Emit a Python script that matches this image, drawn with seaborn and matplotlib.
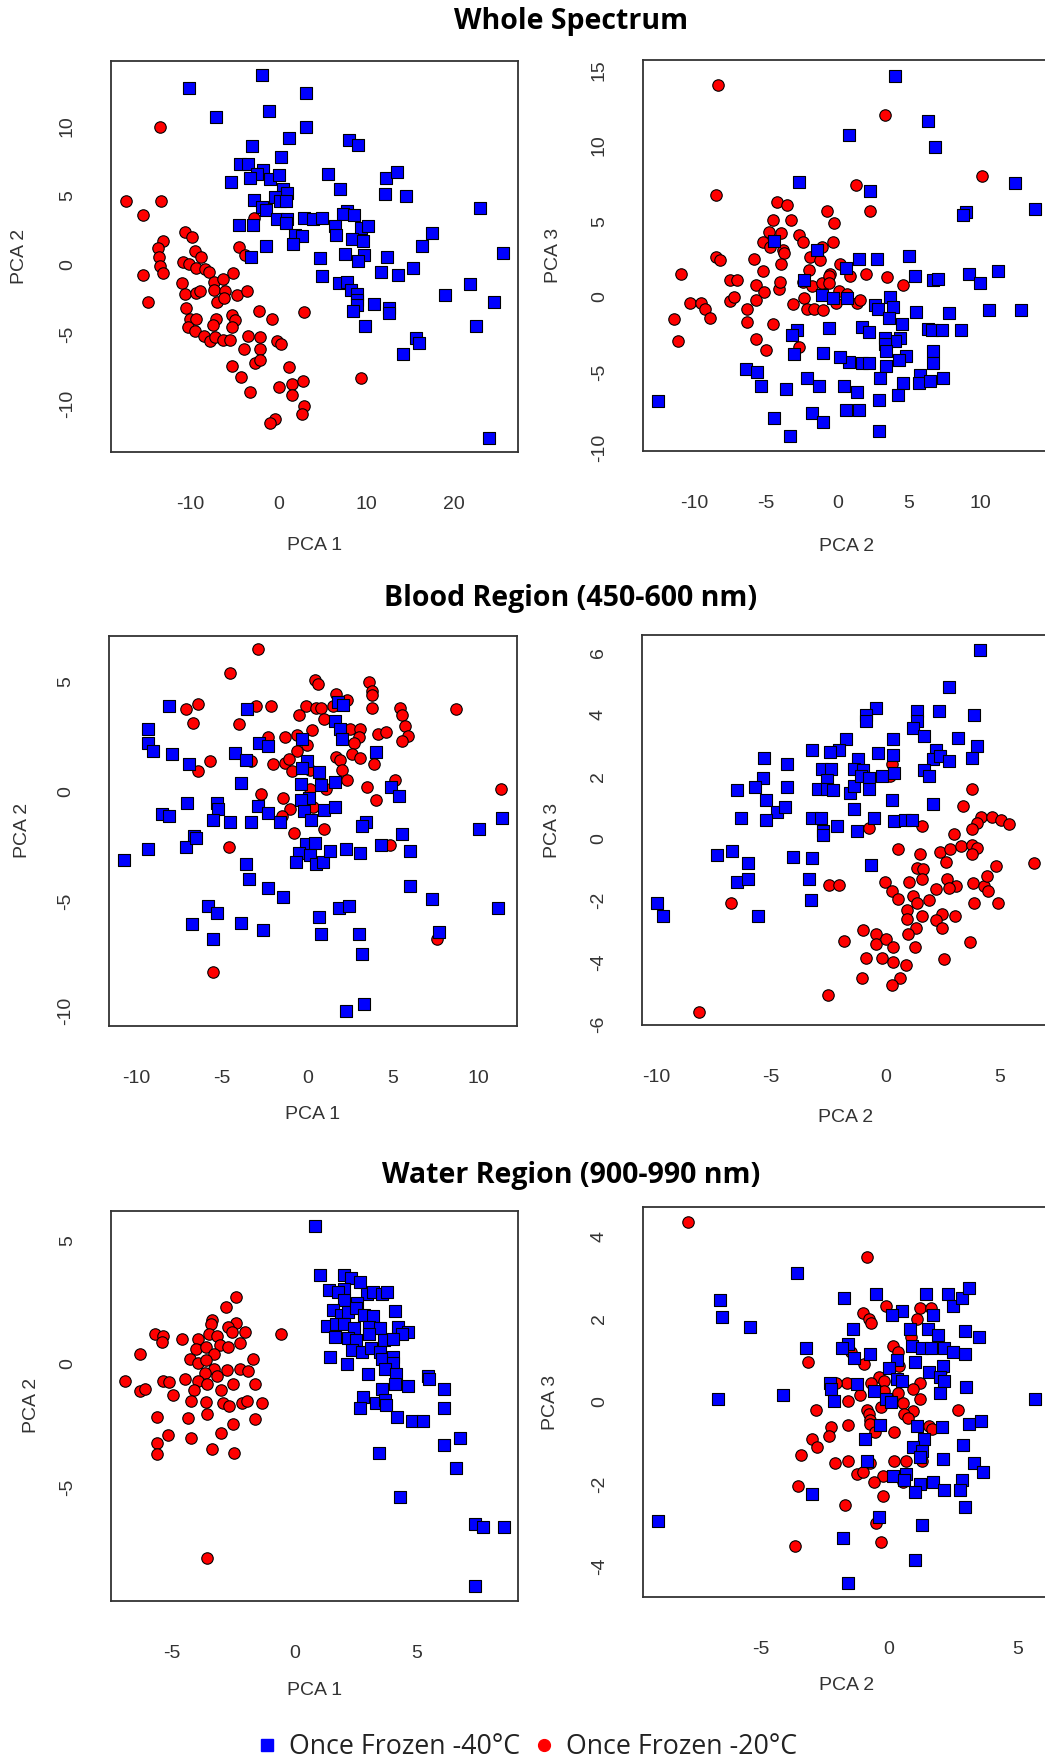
import matplotlib
matplotlib.use("Agg")
import matplotlib.pyplot as plt
import seaborn as sns
import pandas as pd
from matplotlib.lines import Line2D

sns.set_theme(style="white")
plt.rcParams['font.family'] = ['Liberation Sans', 'DejaVu Sans']

# ---------------- DATA ----------------
titles = ["Whole Spectrum", "Blood Region (450-600 nm)", "Water Region (900-990 nm)"]
legend_labels = ["Once Frozen -40\u00b0C", "Once Frozen -20\u00b0C"]

# Panel 1: Whole spectrum, PCA1 vs PCA2
p1_blue = [(-1.9,13.7),(-10.2,12.8),(3.1,12.4),(-1.1,11.1),(-7.1,10.7),(3.2,10.0),(1.2,9.2),(8.0,9.0),(9.0,8.7),(-3.0,8.6),
    (0.3,7.8),(-4.3,7.3),(-3.5,7.3),(-1.7,6.9),(-2.4,6.6),(-3.2,6.3),(-1.0,6.2),(0.1,6.5),(5.6,6.6),(-5.4,6.0),(12.2,6.3),
    (13.5,6.7),(7.0,5.5),(0.5,5.5),(1.0,5.2),(-0.4,4.9),(0.2,4.6),(-2.8,4.7),(0.9,4.6),(-1.8,4.2),(-1.4,4.0),(12.1,5.1),
    (14.5,5.0),(22.9,4.1),(7.8,3.9),(7.3,3.7),(8.6,3.6),(2.9,3.4),(3.9,3.3),(5.0,3.4),(-0.2,3.3),(1.0,3.3),(0.9,3.0),
    (6.4,2.8),(9.4,2.7),(10.2,2.8),(-4.5,2.9),(-2.9,2.9),(1.9,2.2),(2.7,2.1),(6.5,2.2),(17.5,2.3),(8.4,1.9),(9.6,1.7),
    (-1.4,1.4),(1.7,1.5),(16.3,1.4),(25.5,0.9),(-3.1,0.6),(4.7,0.5),(7.6,0.8),(9.7,0.7),(9.0,0.3),(12.4,0.6),(15.3,-0.2),
    (11.7,-0.5),(13.6,-0.7),(5.0,-0.8),(6.9,-1.3),(7.8,-1.2),(8.3,-1.8),(8.9,-2.1),(8.9,-2.5),(8.9,-2.9),(8.5,-3.3),
    (10.9,-2.8),(12.6,-3.1),(12.6,-3.5),(9.8,-4.4),(18.9,-2.2),(21.8,-1.4),(24.5,-2.7),(22.5,-4.4),(15.6,-5.3),(16.0,-5.6),
    (14.2,-6.4),(23.9,-12.5)]
p1_red = [(-13.4,10.0),(-17.3,4.6),(-13.3,4.6),(-15.4,3.6),(-2.8,3.4),(-10.6,2.4),(-9.8,2.0),(-13.1,1.7),(-13.7,1.2),
    (-13.6,0.6),(-4.5,1.3),(-3.8,0.7),(-9.5,1.0),(-8.8,0.6),(-13.4,-0.1),(-10.8,0.2),(-10.2,0.1),(-9.3,-0.2),(-8.3,-0.3),
    (-7.9,-0.5),(-15.4,-0.7),(-13.1,-0.6),(-5.2,-0.6),(-14.8,-2.7),(-11.0,-1.3),(-10.6,-2.1),(-9.3,-2.0),(-8.9,-1.9),
    (-7.3,-1.2),(-6.3,-1.0),(-7.3,-1.8),(-6.1,-1.9),(-7.0,-2.7),(-6.2,-2.4),(-4.7,-2.2),(-3.6,-1.9),(-10.5,-3.1),
    (-10.0,-3.9),(-9.4,-3.9),(-7.1,-3.9),(-7.4,-4.3),(-10.3,-4.5),(-9.5,-4.8),(-8.4,-5.1),(-7.8,-5.5),(-7.2,-5.2),
    (-6.3,-5.4),(-5.5,-5.4),(-5.3,-3.6),(-4.9,-4.0),(-5.3,-4.5),(-3.4,-5.1),(-2.1,-5.2),(-2.2,-3.3),(-0.7,-3.9),
    (2.9,-3.4),(-3.9,-6.1),(-2.1,-6.1),(-2.7,-7.1),(-2.1,-6.9),(-0.2,-5.5),(0.3,-5.7),(-5.3,-7.3),(-4.2,-8.1),
    (-3.2,-9.2),(1.2,-7.4),(1.6,-8.6),(2.8,-8.4),(0.1,-8.8),(1.6,-9.4),(2.9,-10.2),(2.7,-10.8),(-0.4,-11.1),
    (-0.9,-11.4),(9.4,-8.2)]

# Panel 2: Whole spectrum, PCA2 vs PCA3
p2_blue = [(4.0,14.6),(6.3,11.6),(0.8,10.7),(6.8,9.9),(-2.7,7.6),(2.3,7.0),(12.4,7.5),(9.0,5.6),(8.8,5.4),(13.8,5.8),
    (-4.4,3.7),(-1.4,3.1),(1.5,2.5),(2.8,2.5),(5.0,2.7),(0.6,1.9),(5.4,1.4),(9.2,1.5),(11.2,1.7),
    (-2.3,1.1),(-1.1,0.1),(-0.3,-0.1),(0.65,-0.1),(3.7,0.0),(2.6,-0.55),(2.85,-0.8),(3.9,-0.7),(3.6,-1.4),(5.5,-1.0),
    (7.8,-1.1),(10.6,-0.9),(12.8,-0.9),(9.95,0.9),(6.7,1.1),(7.0,1.2),(4.5,-1.8),(6.3,-2.1),(6.6,-2.2),(7.3,-2.2),
    (8.6,-2.2),(4.4,-2.7),(4.0,-2.9),(3.3,-2.75),(3.3,-3.1),(3.4,-3.6),(4.8,-3.9),(4.3,-4.2),(6.7,-3.6),(6.7,-4.4),
    (3.4,-4.6),(3.0,-5.35),(5.8,-5.2),(5.7,-5.7),(6.5,-5.6),(7.35,-5.35),(4.6,-5.7),(4.2,-6.5),(2.9,-6.8),(1.7,-4.4),
    (2.2,-4.4),(0.8,-4.3),(0.2,-4.0),(-1.0,-3.7),(1.7,-2.0),(2.2,-2.3),(-0.6,-2.05),(-2.8,-2.2),(-3.15,-2.5),(-3.0,-3.8),
    (-6.4,-4.8),(-5.6,-5.0),(-5.3,-5.9),(-3.6,-6.1),(-2.1,-5.35),(-1.3,-5.9),(0.5,-5.9),(1.4,-6.3),(0.6,-7.5),(1.5,-7.5),
    (-1.8,-7.7),(-1.0,-8.3),(-4.4,-8.0),(-3.3,-9.2),(2.9,-8.9),(-12.5,-6.9)]
p2_red = [(-8.3,14.0),(3.3,12.0),(10.1,8.0),(1.3,7.4),(-8.5,6.7),(2.3,5.7),(-4.2,6.3),(-3.5,6.1),(-4.5,5.1),(-3.2,5.1),
    (-0.7,5.7),(-0.2,4.9),(-4.8,4.3),(-3.9,4.2),(-2.65,4.1),(-2.4,3.6),(-5.2,3.6),(-4.7,3.3),(-3.8,3.1),(-3.7,2.9),
    (-1.1,3.3),(-0.3,3.6),(-8.5,2.6),(-8.2,2.4),(-5.8,2.5),(-3.9,2.2),(-1.9,2.6),(-1.2,2.4),(0.2,2.2),(-10.9,1.5),
    (-5.2,1.7),(-2.0,1.8),(-0.5,1.5),(2.0,1.5),(3.5,1.3),(-7.5,1.1),(-7.0,1.1),(-5.7,0.8),(-5.1,0.3),(-4.1,0.5),
    (-4.0,1.0),(-5.7,-0.2),(-7.5,-0.3),(-7.2,0.0),(-6.3,-0.8),(-10.3,-0.4),(-9.5,-0.4),(-9.2,-0.8),(-8.9,-1.4),
    (-11.4,-1.5),(-11.1,-2.9),(-6.3,-1.7),(-4.5,-1.8),(-5.7,-2.8),(-5.0,-3.5),(-2.7,-3.3),(-3.1,-0.5),(-2.4,1.0),
    (-1.8,0.7),(-2.3,-0.1),(-2.1,-0.8),(-1.6,-0.8),(-1.0,-0.9),(-1.1,0.9),(-0.6,1.4),(-0.6,0.9),(-0.1,-0.4),(0.1,0.4),
    (0.7,0.2),(0.9,1.4),(1.35,-0.4),(1.6,-0.2),(4.6,0.8)]

# Panel 3: Blood region, PCA1 vs PCA2
p3_blue = [(-8.1,3.9),(-9.3,2.85),(-9.3,2.2),(-9.0,1.85),(-7.9,1.7),(-6.9,1.25),(-3.5,3.75),(-2.8,2.2),(-2.3,2.1),
    (-4.2,1.75),(-3.6,1.45),(-3.9,0.4),(-7.0,-0.5),(-5.3,-0.5),(-5.2,-0.8),(-8.5,-1.0),(-8.1,-1.1),(-5.5,-1.3),(-4.5,-1.4),
    (-3.3,-1.4),(-1.6,-1.4),(-2.9,-0.65),(-2.3,-0.95),(-0.3,2.4),(1.8,4.1),(2.1,3.95),(1.6,3.2),(1.9,2.85),(2.0,2.4),
    (0.0,1.4),(-0.3,1.1),(0.7,0.9),(-0.4,0.35),(0.8,0.3),(1.6,0.45),(0.1,-0.3),(-0.4,-0.4),(-0.2,-0.9),(0.2,-1.3),
    (1.0,-0.85),(1.6,-0.7),(4.0,1.8),(4.9,0.2),(5.35,-0.2),(3.4,-1.4),(3.2,-1.55),(5.55,-1.95),(10.0,-1.7),(11.35,-1.2),
    (-6.6,-2.0),(-10.7,-3.1),(-9.3,-2.6),(-7.1,-2.5),(-6.5,-2.1),(-3.6,-3.3),(-3.4,-4.0),(-2.3,-4.4),(-1.4,-4.8),
    (-5.8,-5.2),(-5.3,-5.55),(-6.75,-6.05),(-3.9,-6.0),(-2.6,-6.3),(-5.5,-6.7),(-0.1,-2.4),(0.45,-2.35),(-0.5,-2.8),
    (0.15,-2.9),(-0.65,-3.2),(0.5,-3.3),(0.9,-3.2),(1.3,-2.7),(2.25,-2.6),(3.1,-2.8),(4.3,-2.45),(6.0,-2.7),(6.0,-4.3),
    (7.3,-4.9),(11.1,-5.3),(1.85,-5.3),(2.45,-5.2),(0.7,-5.7),(0.8,-6.5),(3.0,-6.5),(3.2,-7.4),(7.7,-6.4),(2.25,-10.0),
    (3.3,-9.7)]
p3_red = [(-2.9,6.5),(-4.5,5.4),(0.45,5.1),(0.6,4.9),(3.6,5.0),(3.8,4.6),(3.8,4.4),(-7.1,3.75),(-6.4,4.0),(-6.7,3.15),
    (-4.0,3.1),(-3.0,3.9),(-2.1,3.9),(-0.1,3.9),(0.5,3.8),(0.8,3.8),(1.5,3.9),(1.7,4.45),(2.3,4.2),(3.8,3.8),(5.4,3.8),
    (5.5,3.5),(5.7,3.0),(5.9,2.55),(5.5,2.3),(8.7,3.75),(-0.5,3.5),(1.0,3.3),(-1.3,2.5),(-0.6,2.6),(0.25,2.8),(-2.3,2.5),
    (2.5,2.85),(3.1,2.85),(3.0,2.5),(4.1,2.65),(4.6,2.7),(2.7,2.2),(0.0,2.15),(-0.6,1.85),(-5.7,1.4),(-6.4,0.95),
    (-3.3,1.4),(-2.0,1.25),(-1.3,1.3),(-1.1,1.5),(-0.9,0.95),(1.7,1.6),(1.9,1.45),(2.6,1.7),(3.1,1.55),(3.9,1.25),
    (2.0,1.0),(2.3,0.55),(0.15,1.0),(5.1,0.55),(3.5,0.2),(4.0,-0.4),(11.3,0.1),(-2.7,-0.1),(-1.4,-0.3),(-1.0,-0.8),
    (-1.5,-1.1),(0.35,-0.7),(0.15,0.1),(1.1,0.1),(-0.8,-1.9),(1.0,-1.7),(-4.6,-2.5),(4.8,-2.45),(7.55,-6.7),(-5.5,-8.2)]

# Panel 4: Blood region, PCA2 vs PCA3
p4_blue = [(4.15,6.1),(2.8,4.9),(-0.4,4.2),(-0.85,4.0),(-0.85,3.8),(1.4,4.1),(1.4,3.8),(1.2,3.55),(2.35,4.1),(3.9,4.0),
    (1.7,3.3),(3.2,3.25),(4.0,3.0),(0.35,3.2),(-1.7,3.2),(-2.0,2.85),(-2.4,2.8),(-3.2,2.85),(-0.3,2.75),(0.35,2.7),
    (-5.3,2.6),(-4.3,2.4),(-5.35,1.95),(-5.7,1.65),(-6.5,1.55),(-4.3,1.65),(-5.2,1.25),(-4.75,0.85),(-4.4,1.0),(-6.3,0.65),
    (-5.2,0.6),(-2.75,2.25),(-2.35,2.25),(-2.55,1.9),(-2.95,1.6),(-2.55,1.6),(-2.3,1.55),(-1.55,1.45),(-1.35,1.7),
    (-1.2,2.55),(-1.35,2.25),(-0.95,2.2),(-1.05,2.0),(-0.7,1.95),(-0.7,1.6),(-0.15,2.0),(0.4,2.1),(0.3,1.25),(2.1,1.1),
    (2.2,2.85),(2.1,2.55),(2.4,2.65),(2.8,2.5),(1.7,2.2),(1.9,2.0),(3.8,2.6),(-1.35,0.95),(-3.2,0.65),(-2.8,0.65),
    (-2.1,0.4),(-2.7,0.25),(-1.25,0.25),(-0.5,0.65),(0.4,0.55),(0.85,0.6),(1.15,0.6),(-2.7,0.1),(-7.35,-0.55),
    (-6.7,-0.4),(-6.0,-0.8),(-6.5,-1.4),(-6.0,-1.3),(-5.55,-2.5),(-4.05,-0.6),(-3.2,-0.65),(-3.35,-1.3),(-3.25,-2.0),
    (-0.6,-0.85),(-10.0,-2.1),(-9.7,-2.5)]
p4_red = [(0.3,2.4),(0.2,2.0),(3.8,1.6),(3.4,1.05),(4.2,0.7),(4.65,0.7),(5.05,0.6),(5.4,0.45),(4.0,0.5),(3.8,0.3),
    (3.0,0.15),(1.6,0.4),(-0.7,0.35),(0.55,-0.35),(1.5,-0.5),(1.4,-0.95),(1.65,-1.0),(1.6,-1.3),(1.05,-1.4),(0.0,-1.4),
    (0.3,-1.7),(0.55,-1.95),(1.2,-1.85),(1.4,-2.1),(0.95,-2.3),(0.95,-2.6),(1.6,-2.5),(1.9,-2.0),(2.2,-1.65),(2.7,-1.3),
    (3.1,-1.55),(2.8,-1.6),(2.5,-2.45),(2.2,-2.65),(2.5,-2.9),(3.05,-2.5),(1.35,-2.9),(1.0,-3.1),(1.3,-3.5),(2.55,-3.9),
    (3.7,-3.35),(3.9,-2.1),(3.85,-1.45),(4.3,-1.55),(4.5,-1.7),(4.45,-1.2),(4.85,-0.9),(4.95,-2.1),(6.5,-0.8),
    (2.4,-0.45),(2.85,-0.35),(2.65,-0.75),(3.3,-0.25),(3.8,-0.2),(4.0,-0.3),(3.8,-0.5),(-0.95,-2.95),(-0.4,-3.1),
    (-0.4,-3.4),(0.05,-3.25),(0.35,-3.5),(-1.8,-3.3),(-0.85,-3.85),(-0.15,-3.85),(0.35,-4.0),(0.9,-4.1),(-1.0,-4.5),
    (0.65,-4.5),(0.3,-4.75),(-2.5,-5.05),(-2.45,-1.5),(-2.0,-1.5),(-6.75,-2.1),(-8.15,-5.6)]

# Panel 5: Water region, PCA1 vs PCA2
p5_blue = [(0.85,5.6),(1.05,3.6),(2.05,3.6),(2.3,3.5),(2.7,3.3),(1.4,3.0),(2.05,3.05),(1.8,2.9),(2.95,2.85),(3.2,2.9),
    (3.6,2.85),(3.8,2.9),(2.05,2.6),(2.55,2.45),(1.6,2.2),(1.9,2.0),(2.2,2.1),(2.5,2.25),(2.85,2.0),(3.2,1.95),(4.1,2.15),
    (1.35,1.55),(1.7,1.6),(2.05,1.6),(2.45,1.45),(3.05,1.5),(3.5,1.45),(4.25,1.5),(4.65,1.3),(4.4,1.2),(1.65,1.1),
    (2.2,1.05),(2.5,0.95),(3.05,1.2),(3.65,0.95),(4.05,1.0),(2.35,0.55),(2.75,0.5),(3.15,0.65),(3.5,0.5),(3.6,0.2),
    (4.05,0.3),(4.05,0.05),(3.7,-0.2),(1.45,0.3),(2.15,0.0),(3.0,-0.4),(4.15,-0.4),(4.1,-0.8),(4.65,-0.9),(5.45,-0.5),
    (5.5,-0.6),(6.1,-1.0),(3.6,-1.0),(2.8,-1.35),(3.35,-1.6),(3.7,-1.45),(3.75,-1.65),(6.1,-1.8),(2.7,-1.8),(4.2,-2.15),
    (4.8,-2.3),(5.25,-2.3),(6.1,-3.3),(6.75,-3.0),(3.45,-3.6),(6.6,-4.2),(4.3,-5.4),(7.4,-6.5),(7.7,-6.6),(8.55,-6.6),
    (7.4,-9.0)]
p5_red = [(-2.4,2.7),(-2.8,2.3),(-3.35,1.8),(-3.4,1.6),(-2.4,1.65),(-2.7,1.5),(-0.55,1.2),(-5.7,1.2),(-5.35,1.15),
    (-5.4,0.9),(-4.6,1.0),(-3.95,1.0),(-3.5,1.2),(-3.15,1.15),(-2.55,1.3),(-2.0,1.3),(-3.05,0.75),(-2.7,0.7),(-2.2,0.85),
    (-4.0,0.6),(-3.6,0.7),(-3.3,0.4),(-6.3,0.4),(-4.25,0.2),(-3.95,0.05),(-3.6,0.15),(-3.3,-0.2),(-2.75,-0.25),(-1.7,0.2),
    (-2.2,-0.2),(-1.9,-0.3),(-3.65,-0.35),(-4.45,-0.6),(-3.95,-0.7),(-3.55,-0.8),(-3.15,-0.5),(-2.5,-0.8),(-1.6,-0.8),
    (-3.0,-1.05),(-4.1,-1.05),(-6.9,-0.7),(-6.3,-1.1),(-6.1,-1.0),(-5.35,-0.7),(-5.1,-0.75),(-4.95,-1.25),(-4.2,-1.5),
    (-3.6,-1.55),(-2.9,-1.6),(-2.65,-1.7),(-2.15,-1.6),(-1.95,-1.5),(-1.3,-1.6),(-3.55,-2.05),(-4.35,-2.2),(-5.6,-2.15),
    (-1.6,-2.25),(-2.5,-2.45),(-5.15,-2.9),(-4.2,-3.0),(-3.0,-2.8),(-5.6,-3.2),(-5.6,-3.65),(-3.35,-3.45),(-2.45,-3.6),
    (-3.55,-7.85)]

# Panel 6: Water region, PCA2 vs PCA3
p6_blue = [(-3.6,3.1),(-6.6,2.45),(-6.5,2.05),(-5.4,1.8),(-1.75,2.5),(-0.5,2.6),(1.45,2.6),(2.3,2.6),(2.5,2.3),(2.85,2.5),
    (3.1,2.75),(0.5,2.2),(0.1,2.1),(1.7,2.1),(-1.4,1.75),(0.8,1.75),(1.5,1.75),(1.9,1.6),(2.95,1.7),(3.5,1.55),(-3.25,1.3),
    (-1.6,1.4),(-1.85,1.3),(-1.35,1.05),(-0.75,1.15),(0.9,1.35),(1.3,1.3),(1.65,1.3),(2.15,1.3),(2.5,1.2),(2.95,1.15),
    (0.3,1.0),(1.0,0.95),(0.0,0.8),(1.55,0.7),(2.1,0.85),(2.0,0.6),(2.15,0.5),(0.3,0.55),(0.5,0.5),(-2.3,0.45),(-2.25,0.3),
    (-1.26,0.42),(-0.6,0.25),(-0.1,0.05),(0.08,-0.02),(2.0,0.2),(3.0,0.35),(-2.15,0.0),(-4.15,0.15),(-6.65,0.05),(5.7,0.05),
    (-0.35,-0.57),(-0.95,-0.9),(1.1,-0.6),(1.35,-0.9),(0.95,-1.1),(1.27,-1.2),(1.2,-1.35),(2.05,-0.63),(2.9,-1.05),
    (3.1,-0.55),(3.6,-0.48),(2.1,-1.4),(3.3,-1.5),(3.65,-1.7),(-0.87,-1.45),(0.17,-1.8),(0.65,-1.75),(0.6,-1.9),(1.2,-2.0),
    (1.0,-2.2),(1.7,-1.95),(2.15,-2.15),(2.85,-1.9),(2.75,-2.15),(2.95,-2.55),(-3.0,-2.25),(-0.38,-2.8),(1.27,-3.0),
    (-1.8,-3.3),(1.0,-3.85),(-1.6,-4.4),(-9.0,-2.9)]
p6_red = [(-7.85,4.35),(-0.85,3.5),(-1.0,2.15),(-0.8,2.0),(-0.7,1.9),(-0.1,2.3),(1.2,2.25),(1.65,2.25),(1.1,2.0),(0.85,1.55),
    (0.15,1.35),(0.35,1.2),(0.4,0.85),(-0.97,0.9),(-1.5,1.2),(-3.15,0.95),(1.3,1.3),(1.2,0.45),(0.95,0.3),(1.2,0.05),
    (0.35,0.2),(-0.4,0.6),(-0.2,0.5),(-0.7,0.45),(-1.65,0.45),(-2.05,0.45),(-1.15,0.15),(-1.6,0.0),(-0.2,0.25),
    (-2.85,-0.2),(0.55,-0.05),(-0.85,-0.2),(2.7,-0.2),(2.1,0.8),(-0.8,-0.3),(-0.75,-0.45),(-0.75,-0.55),(-0.55,-0.75),
    (-0.3,-0.13),(0.92,-0.23),(0.58,-0.3),(0.73,-0.4),(1.57,-0.6),(1.66,-0.67),(0.2,-0.75),(-1.6,-0.57),(-2.25,-0.63),
    (-3.0,-0.9),(-2.8,-1.1),(-2.35,-0.85),(-3.45,-1.3),(-2.1,-1.5),(-1.6,-1.45),(-0.75,-1.5),(-1.25,-1.75),(-1.0,-1.7),
    (-0.25,-1.8),(-0.6,-1.95),(0.2,-1.45),(0.65,-1.45),(1.3,-1.45),(0.55,-1.95),(-3.55,-2.05),(-1.7,-2.5),(-0.25,-2.3),
    (-0.5,-2.95),(-0.3,-3.4),(-3.65,-3.5)]

x_labels = ["PCA 1", "PCA 2", "PCA 1", "PCA 2", "PCA 1", "PCA 2"]
y_labels = ["PCA 2", "PCA 3", "PCA 2", "PCA 3", "PCA 2", "PCA 3"]
x_ticks = [[-10, 0, 10, 20], [-10, -5, 0, 5, 10], [-10, -5, 0, 5, 10], [-10, -5, 0, 5], [-5, 0, 5], [-5, 0, 5]]
y_ticks = [[-10, -5, 0, 5, 10], [-10, -5, 0, 5, 10, 15], [-10, -5, 0, 5], [-6, -4, -2, 0, 2, 4, 6], [-5, 0, 5], [-4, -2, 0, 2, 4]]

# ---------------- LAYOUT ----------------
W, H = 1045, 1762
BLUE, RED = "#0000FF", "#FF0000"
INK = "#333333"

panels = [
    dict(blue=p1_blue, red=p1_red, rect=(110.7, 61, 518, 451.7), xlim=(-19.05, 27.24), ylim=(-13.49, 14.74), lab=(-0.239, -0.223)),
    dict(blue=p2_blue, red=p2_red, rect=(642.7, 60, 1050, 451), xlim=(-13.58, 14.84), ylim=(-10.2, 15.66), lab=(-0.2455, -0.22)),
    dict(blue=p3_blue, red=p3_red, rect=(109, 635.7, 516.7, 1026), xlim=(-11.58, 12.22), ylim=(-10.68, 7.11), lab=(-0.227, -0.212)),
    dict(blue=p4_blue, red=p4_red, rect=(641.7, 635, 1048.7, 1025), xlim=(-10.65, 7.15), ylim=(-6.03, 6.57), lab=(-0.238, -0.218)),
    dict(blue=p5_blue, red=p5_red, rect=(110.7, 1210.7, 518.3, 1601), xlim=(-7.5, 9.15), ylim=(-9.61, 6.21), lab=(-0.23, -0.194)),
    dict(blue=p6_blue, red=p6_red, rect=(642.7, 1207.3, 1050.7, 1596.7), xlim=(-9.6, 6.3), ylim=(-4.73, 4.7), lab=(-0.228, -0.226)),
]

fig = plt.figure(figsize=(W / 100, H / 100), dpi=100)
fig.patch.set_facecolor("white")

for i, p in enumerate(panels):
    l, t, r, b = p["rect"]
    ax = fig.add_axes([l / W, 1 - b / H, (r - l) / W, (b - t) / H])
    red = pd.DataFrame(p["red"], columns=["x", "y"])
    blue = pd.DataFrame(p["blue"], columns=["x", "y"])
    sns.scatterplot(data=red, x="x", y="y", ax=ax, marker="o", color=RED, edgecolor="black",
                    linewidth=0.8, s=68, legend=False, zorder=3)
    sns.scatterplot(data=blue, x="x", y="y", ax=ax, marker="s", color=BLUE, edgecolor="black",
                    linewidth=0.8, s=76, legend=False, zorder=4)
    ax.set_xlim(*p["xlim"])
    ax.set_ylim(*p["ylim"])
    ax.set_xticks(x_ticks[i])
    ax.set_xticklabels([str(v) for v in x_ticks[i]])
    ax.set_yticks(y_ticks[i])
    ax.set_yticklabels([str(v) for v in y_ticks[i]], rotation=90, va="center")
    ax.tick_params(axis="both", direction="out", length=12, width=1.2, color=INK,
                   labelsize=14, labelcolor=INK)
    ax.tick_params(axis="x", pad=20)
    ax.tick_params(axis="y", pad=13)
    for s in ax.spines.values():
        s.set_color(INK)
        s.set_linewidth(1.3)
        s.set_visible(True)
    ax.set_xlabel(x_labels[i], fontsize=14, color=INK)
    ax.set_ylabel(y_labels[i], fontsize=14, color=INK)
    ax.xaxis.set_label_coords(0.5, p["lab"][0])
    ax.yaxis.set_label_coords(p["lab"][1], 0.5)
    ax.xaxis.label.set_va("center")
    ax.yaxis.label.set_va("center")
    ax.grid(False)
    ax.set_facecolor("white")

title_y = [22, 598, 1176]
for txt, ty in zip(titles, title_y):
    fig.text(571 / W, 1 - ty / H, txt, ha="center", va="center", fontsize=20.5,
             fontweight="bold", family=["Open Sans", "DejaVu Sans"], color="black")

handles = [Line2D([], [], marker="s", linestyle="None", markerfacecolor=BLUE, markeredgecolor=BLUE, markersize=8.5),
           Line2D([], [], marker="o", linestyle="None", markerfacecolor=RED, markeredgecolor=RED, markersize=8.5)]
fig.legend(handles, legend_labels, loc="center left", bbox_to_anchor=(256 / W, 1 - 1747 / H), ncol=2,
           frameon=False, borderpad=0, borderaxespad=0, handlelength=0.8, handletextpad=0.42, columnspacing=0.5,
           prop={"family": ["Open Sans", "DejaVu Sans"], "size": 19.3}, labelcolor="#222222")

fig.savefig("out.png", dpi=100, facecolor="white")
